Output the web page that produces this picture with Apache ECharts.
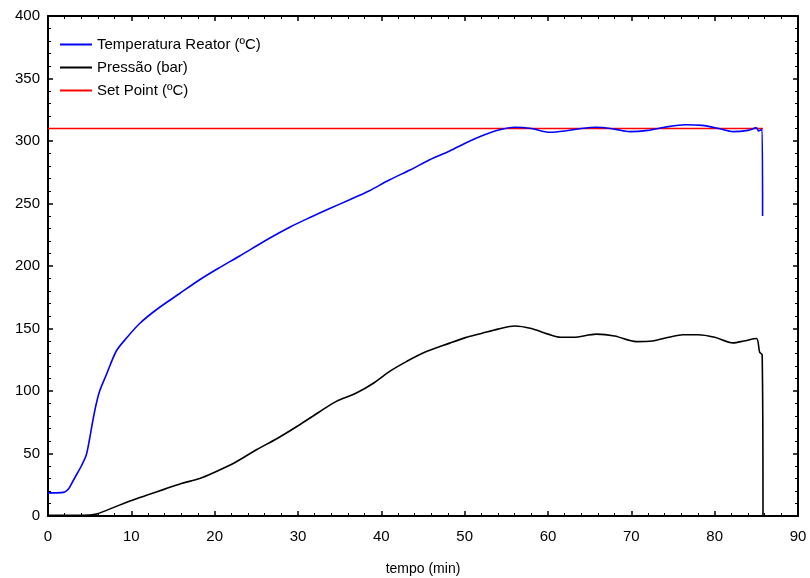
<!DOCTYPE html>
<html>
<head>
<meta charset="utf-8">
<script src="https://cdn.jsdelivr.net/npm/echarts@6/dist/echarts.min.js"></script>
<style>
html, body { margin: 0; padding: 0; background: #fff; }
#chart { width: 810px; height: 578px; }
</style>
</head>
<body>
<div id="chart"></div>
<script>
// tempo (min) e temperatura do reator (oC)
const tempoTemp = [0, 1, 2, 2.5, 3, 3.5, 4, 4.6, 5, 5.4, 5.8, 6.2, 7, 8.2, 9.5, 11, 13, 15.8, 18.2, 20.4,
    23, 26, 29, 31.5, 33.8, 36.2, 38.5, 41, 43.5, 45.8, 48.2, 50, 52, 54.2, 56, 58, 60.2, 62, 64, 65.8,
    68, 69.8, 72, 74, 76.5, 78.5, 80.5, 82.2, 84, 85, 85.3, 85.6, 85.7, 85.75];
const temperatura = [18.5, 18.5, 19.2, 22, 28, 34, 40, 49, 62, 77, 90, 100, 113, 132, 143, 154, 165, 178, 189, 198,
    208, 220, 231, 239, 246, 253, 260, 269, 277, 285, 292, 298, 304, 309, 311, 310, 307, 308, 310, 311,
    309.5, 307.5, 308.5, 311, 313, 312.5, 310, 307.5, 308.5, 310.5, 308, 309, 309, 240];

// tempo (min) e pressao (bar)
const tempoPressao = [0, 3, 5, 5.8, 7, 8.5, 10.2, 12, 14, 16, 18.2, 20, 22.5, 25, 27.5, 30.2, 32.5, 34.6, 37, 39,
    41, 43, 45, 48.2, 50, 52, 54, 56, 58, 60, 61.5, 63, 65.8, 68, 70.6, 72.5, 74.5, 76.2, 78, 80,
    82.2, 83.5, 85, 85.4, 85.7, 85.8];
const pressao = [0.5, 0.5, 0.8, 1.5, 4.5, 8.5, 12.8, 17, 21.5, 26, 30, 35, 43, 53, 62, 73, 83, 91.7, 98.4, 106,
    115.7, 123.5, 130.4, 138.3, 142.5, 146, 149.5, 152, 150, 145.5, 143, 143, 145.5, 144, 139.5, 140, 143, 145, 145, 143,
    138.5, 140, 142, 131, 129, 0];

// set point
const tempoSetPoint = [0, 85.8];
const setPoint = [310, 310];

const nomes = ['Temperatura Reator (ºC)', 'Pressão (bar)', 'Set Point (ºC)'];

const zip = (xs, ys) => xs.map((x, i) => [x, ys[i]]);

const chart = echarts.init(document.getElementById('chart'));

const fonte = 'Liberation Sans, Arial, sans-serif';
const eixoBase = {
    type: 'value',
    axisLine: { show: true, onZero: false, lineStyle: { color: '#000', width: 2 } },
    axisTick: { show: true, inside: true, length: 5, lineStyle: { color: '#000', width: 1.5 } },
    minorTick: { show: true, splitNumber: 5, length: 3, lineStyle: { color: '#000', width: 1 } },
    splitLine: { show: false }
};

const option = {
    animation: false,
    backgroundColor: '#fff',
    grid: { left: 48, right: 12, top: 16, bottom: 62, outerBoundsMode: 'none' },
    legend: {
        orient: 'vertical',
        left: 55,
        top: 31,
        itemWidth: 32,
        itemHeight: 10,
        itemGap: 6,
        icon: 'path://M0,4 L32,4 L32,6 L0,6 Z',
        textStyle: { fontFamily: fonte, fontSize: 15, color: '#000', lineHeight: 17 },
        data: nomes
    },
    xAxis: [
        Object.assign({}, eixoBase, {
            min: 0, max: 90, interval: 10, position: 'bottom',
            name: 'tempo (min)', nameLocation: 'middle', nameGap: 46,
            nameTextStyle: { fontFamily: fonte, fontSize: 14, color: '#000' },
            axisLabel: { fontFamily: fonte, fontSize: 15, color: '#000', margin: 13 }
        }),
        Object.assign({}, eixoBase, {
            min: 0, max: 90, interval: 10, position: 'top',
            axisLabel: { show: false }
        })
    ],
    yAxis: [
        Object.assign({}, eixoBase, {
            min: 0, max: 400, interval: 50, position: 'left',
            axisLabel: { fontFamily: fonte, fontSize: 15, color: '#000', margin: 8 }
        }),
        Object.assign({}, eixoBase, {
            min: 0, max: 400, interval: 50, position: 'right',
            axisLabel: { show: false }
        })
    ],
    series: [
        {
            name: nomes[0], type: 'line', showSymbol: false, smooth: 0.3,
            data: zip(tempoTemp, temperatura),
            lineStyle: { color: '#0000ff', width: 1.6 }, itemStyle: { color: '#0000ff' }, z: 3
        },
        {
            name: nomes[1], type: 'line', showSymbol: false, smooth: 0.3,
            data: zip(tempoPressao, pressao),
            lineStyle: { color: '#000', width: 1.6 }, itemStyle: { color: '#000' }
        },
        {
            name: nomes[2], type: 'line', showSymbol: false,
            data: zip(tempoSetPoint, setPoint),
            lineStyle: { color: '#ff0000', width: 1.6 }, itemStyle: { color: '#ff0000' }, z: 2
        }
    ]
};

chart.setOption(option);
</script>
</body>
</html>
